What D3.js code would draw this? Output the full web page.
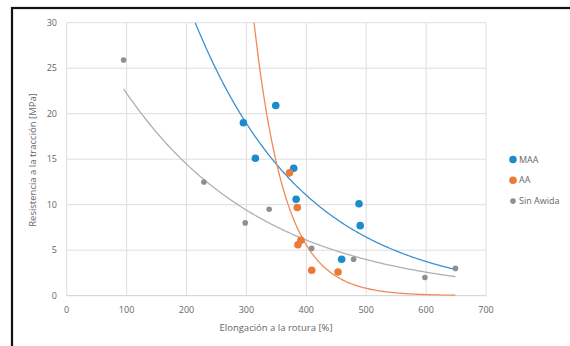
<!DOCTYPE html>
<html>
<head>
<meta charset="utf-8">
<script src="https://cdn.jsdelivr.net/npm/d3@7"></script>
<style>
  body { margin: 0; background: #fff; }
  svg { display: block; font-family: "Open Sans", sans-serif; }
</style>
</head>
<body>
<svg id="chart" width="570" height="346"></svg>
<script>
// Data
const seriesNames = ["MAA", "AA", "Sin Awida"];
const maaX = [295, 315, 349, 379, 383, 488, 490, 459];
const maaY = [19, 15.1, 20.9, 14, 10.6, 10.1, 7.7, 4];
const aaX = [372, 385, 386, 391, 409, 453];
const aaY = [13.5, 9.7, 5.6, 6.1, 2.8, 2.6];
const sinX = [95, 229, 298, 338, 409, 479, 598, 649];
const sinY = [25.9, 12.5, 8, 9.5, 5.2, 4, 2, 3];
const xTicks = [0, 100, 200, 300, 400, 500, 600, 700];
const yTicks = [0, 5, 10, 15, 20, 25, 30];
const trendRange = [95, 650];

const colors = ["#1b8ccb", "#ec7a37", "#8f8f8f"];
const lineColors = ["#3d91cf", "#f08a55", "#b0b0b0"];
const radius = [3.8, 3.8, 2.8];

const svg = d3.select("#chart");

// outer frame
svg.append("rect")
  .attr("x", 12).attr("y", 8)
  .attr("width", 600).attr("height", 400)
  .attr("fill", "none").attr("stroke", "#111").attr("stroke-width", 2.2);

const plotL = 66.7, plotR = 486, plotT = 22.7, plotB = 295.7;
const x = d3.scaleLinear().domain([0, 700]).range([plotL, plotR]);
const y = d3.scaleLinear().domain([0, 30]).range([plotB, plotT]);

// grid
svg.append("g").selectAll("line").data(xTicks).join("line")
  .attr("x1", d => x(d)).attr("x2", d => x(d))
  .attr("y1", plotT).attr("y2", plotB)
  .attr("stroke", "#dedede").attr("stroke-width", 1);
svg.append("g").selectAll("line").data(yTicks).join("line")
  .attr("x1", plotL).attr("x2", plotR)
  .attr("y1", d => y(d)).attr("y2", d => y(d))
  .attr("stroke", d => d === 0 ? "#cfcfcf" : "#dedede").attr("stroke-width", 1);

// tick labels
svg.append("g").selectAll("text").data(xTicks).join("text")
  .attr("x", d => x(d)).attr("y", 313)
  .attr("text-anchor", "middle")
  .attr("font-size", 9).attr("fill", "#666")
  .text(d => d);
svg.append("g").selectAll("text").data(yTicks).join("text")
  .attr("x", 57).attr("y", d => y(d) + 3)
  .attr("text-anchor", "end")
  .attr("font-size", 9).attr("fill", "#666")
  .text(d => d);

// axis titles
svg.append("text")
  .attr("x", 276).attr("y", 331)
  .attr("text-anchor", "middle")
  .attr("font-size", 9.5).attr("fill", "#666")
  .text("Elongación a la rotura [%]");
svg.append("text")
  .attr("transform", "translate(36,160) rotate(-90)")
  .attr("text-anchor", "middle")
  .attr("font-size", 9.5).attr("fill", "#666")
  .text("Resistencia a la tracción [MPa]");

// exponential trendline like Excel: ln(y) = a + b x
function expFit(xs, ys) {
  const ly = ys.map(Math.log);
  const mx = d3.mean(xs), my = d3.mean(ly);
  let sxy = 0, sxx = 0;
  xs.forEach((v, i) => { sxy += (v - mx) * (ly[i] - my); sxx += (v - mx) * (v - mx); });
  const b = sxy / sxx;
  const a = my - b * mx;
  return v => Math.exp(a + b * v);
}

svg.append("clipPath").attr("id", "plot")
  .append("rect")
  .attr("x", plotL).attr("y", plotT)
  .attr("width", plotR - plotL).attr("height", plotB - plotT);

const series = [
  { xs: maaX, ys: maaY },
  { xs: aaX, ys: aaY },
  { xs: sinX, ys: sinY }
];

const line = d3.line().x(d => x(d[0])).y(d => y(d[1]));
const steps = d3.range(trendRange[0], trendRange[1] + 1, 2);

const trends = svg.append("g").attr("clip-path", "url(#plot)");
series.forEach((s, i) => {
  const f = expFit(s.xs, s.ys);
  trends.append("path")
    .attr("d", line(steps.map(v => [v, Math.min(f(v), 40)])))
    .attr("fill", "none")
    .attr("stroke", lineColors[i])
    .attr("stroke-width", 1.3);
});

// points
series.forEach((s, i) => {
  svg.append("g").selectAll("circle").data(s.xs).join("circle")
    .attr("cx", d => x(d))
    .attr("cy", (d, j) => y(s.ys[j]))
    .attr("r", radius[i])
    .attr("fill", colors[i]);
});

// legend
const legend = svg.append("g").selectAll("g").data(seriesNames).join("g")
  .attr("transform", (d, i) => `translate(513,${159.5 + i * 20.8})`);
legend.append("circle")
  .attr("r", (d, i) => radius[i])
  .attr("fill", (d, i) => colors[i]);
legend.append("text")
  .attr("x", 6).attr("y", 3)
  .attr("font-size", 9).attr("fill", "#666")
  .text(d => d);
</script>
</body>
</html>
